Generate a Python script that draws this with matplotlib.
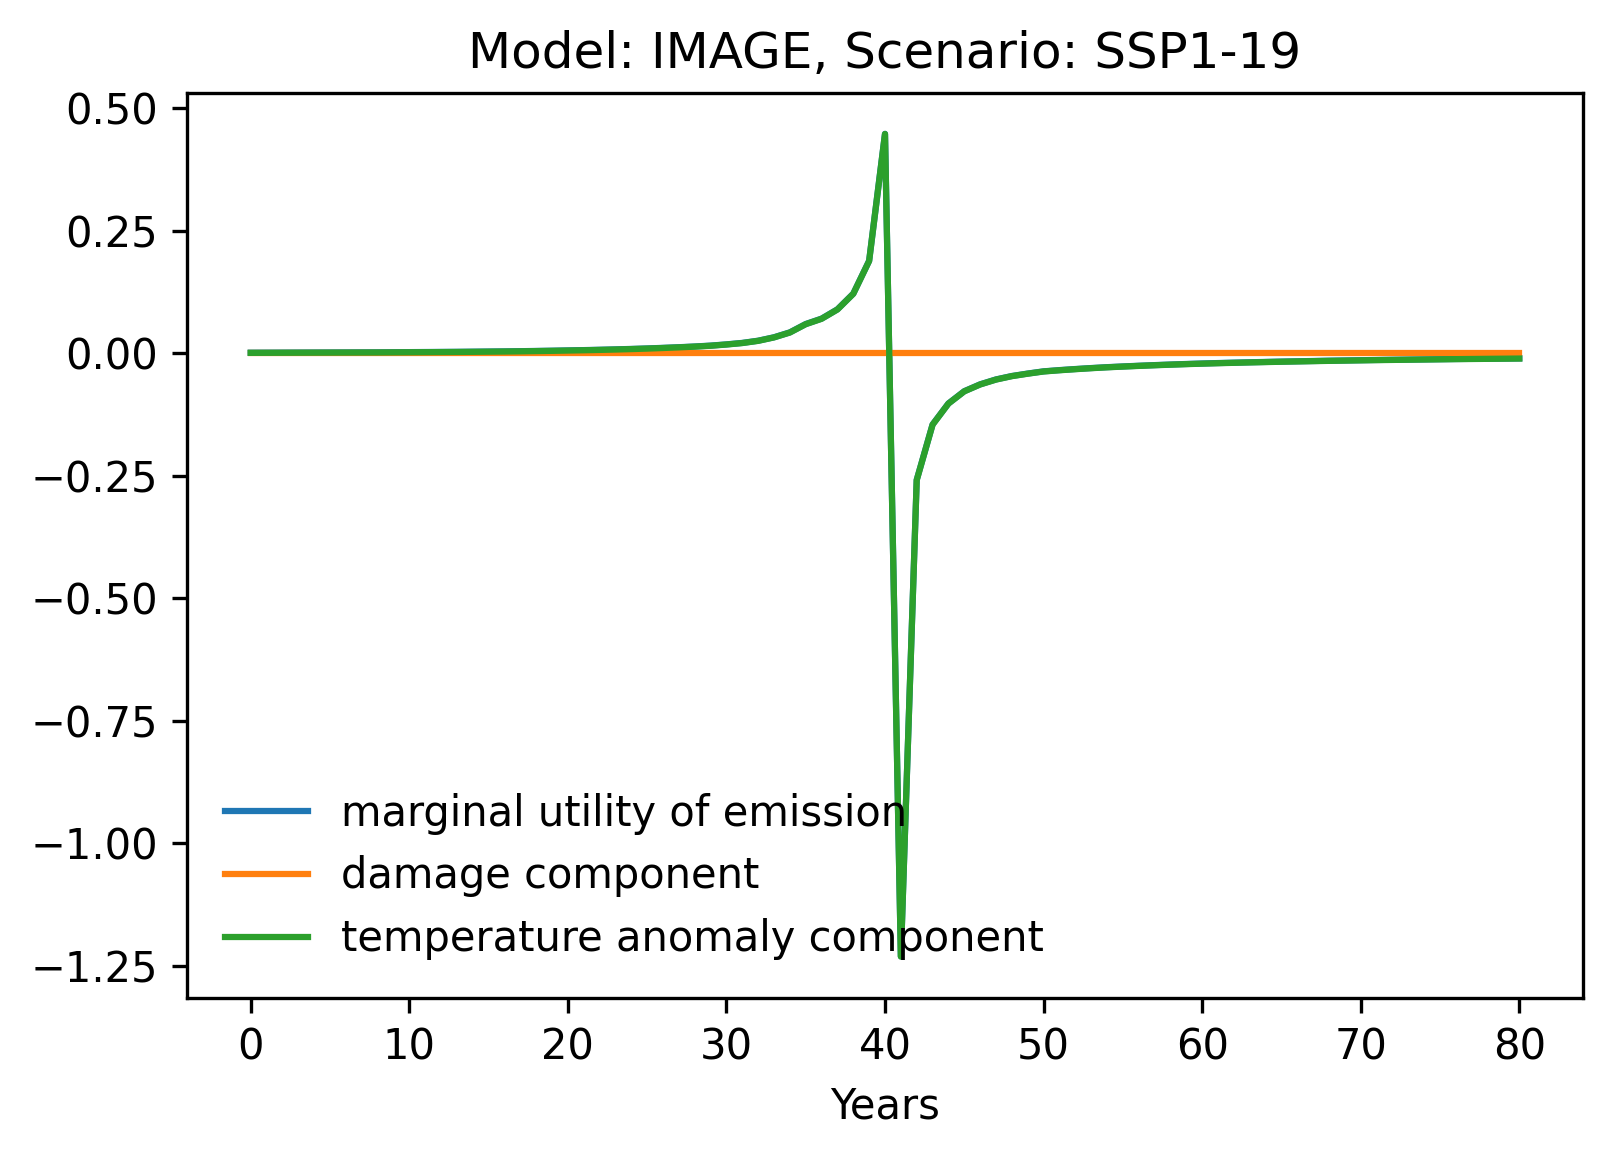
import matplotlib
matplotlib.use("Agg")
import matplotlib.pyplot as plt

years = list(range(0, 81))

temperature_component = [
    0.0005, 0.0006, 0.0007, 0.0008, 0.0009, 0.0010, 0.0011, 0.0012, 0.0013, 0.0015,
    0.0017, 0.0019, 0.0021, 0.0023, 0.0026, 0.0029, 0.0032, 0.0036, 0.0041, 0.0046,
    0.0052, 0.0058, 0.0065, 0.0073, 0.0082, 0.0092, 0.0104, 0.0117, 0.0132, 0.0150,
    0.0175, 0.0205, 0.0250, 0.0320, 0.0420, 0.0590, 0.0700, 0.0890, 0.1210, 0.1880,
    0.4470, -1.2310, -0.2590, -0.1460, -0.1030, -0.0780, -0.0640, -0.0540, -0.0470, -0.0420,
    -0.0375, -0.0350, -0.0328, -0.0308, -0.0290, -0.0275, -0.0261, -0.0248, -0.0236, -0.0225,
    -0.0215, -0.0206, -0.0198, -0.0190, -0.0183, -0.0176, -0.0170, -0.0164, -0.0158, -0.0153,
    -0.0148, -0.0143, -0.0139, -0.0135, -0.0131, -0.0127, -0.0123, -0.0120, -0.0117, -0.0114,
    -0.0111,
]

damage_component = [
    0.0003, 0.0003, 0.0003, 0.0003, 0.0003, 0.0003, 0.0003, 0.0003, 0.0003, 0.0003,
    0.0003, 0.0003, 0.0003, 0.0003, 0.0003, 0.0003, 0.0003, 0.0003, 0.0003, 0.0003,
    0.0003, 0.0003, 0.0003, 0.0003, 0.0003, 0.0003, 0.0003, 0.0003, 0.0003, 0.0003,
    0.0003, 0.0003, 0.0003, 0.0003, 0.0003, 0.0003, 0.0003, 0.0003, 0.0003, 0.0003,
    0.0003, 0.0003, 0.0003, 0.0003, 0.0003, 0.0003, 0.0003, 0.0003, 0.0003, 0.0003,
    0.0003, 0.0003, 0.0003, 0.0003, 0.0003, 0.0003, 0.0003, 0.0003, 0.0003, 0.0003,
    0.0003, 0.0003, 0.0003, 0.0003, 0.0003, 0.0003, 0.0003, 0.0003, 0.0003, 0.0003,
    0.0003, 0.0003, 0.0003, 0.0003, 0.0003, 0.0003, 0.0003, 0.0003, 0.0003, 0.0003,
    0.0003,
]

marginal_utility = [t + d for t, d in zip(temperature_component, damage_component)]

series_labels = ["marginal utility of emission", "damage component",
                 "temperature anomaly component"]
title = "Model: IMAGE, Scenario: SSP1-19"
xlabel = "Years"

fig = plt.figure(figsize=(1611 / 300, 1158 / 300), dpi=300)
ax = fig.add_axes([187.3 / 1611, 1 - 997.7 / 1158,
                   (1582.7 - 187.3) / 1611, (997.7 - 92.7) / 1158])

ax.plot(years, marginal_utility, label=series_labels[0], color="#1f77b4")
ax.plot(years, damage_component, label=series_labels[1], color="#ff7f0e")
ax.plot(years, temperature_component, label=series_labels[2], color="#2ca02c")

ax.set_title(title)
ax.set_xlabel(xlabel)
ax.legend(loc="lower left", frameon=False)

fig.savefig("out.png", dpi=300)
